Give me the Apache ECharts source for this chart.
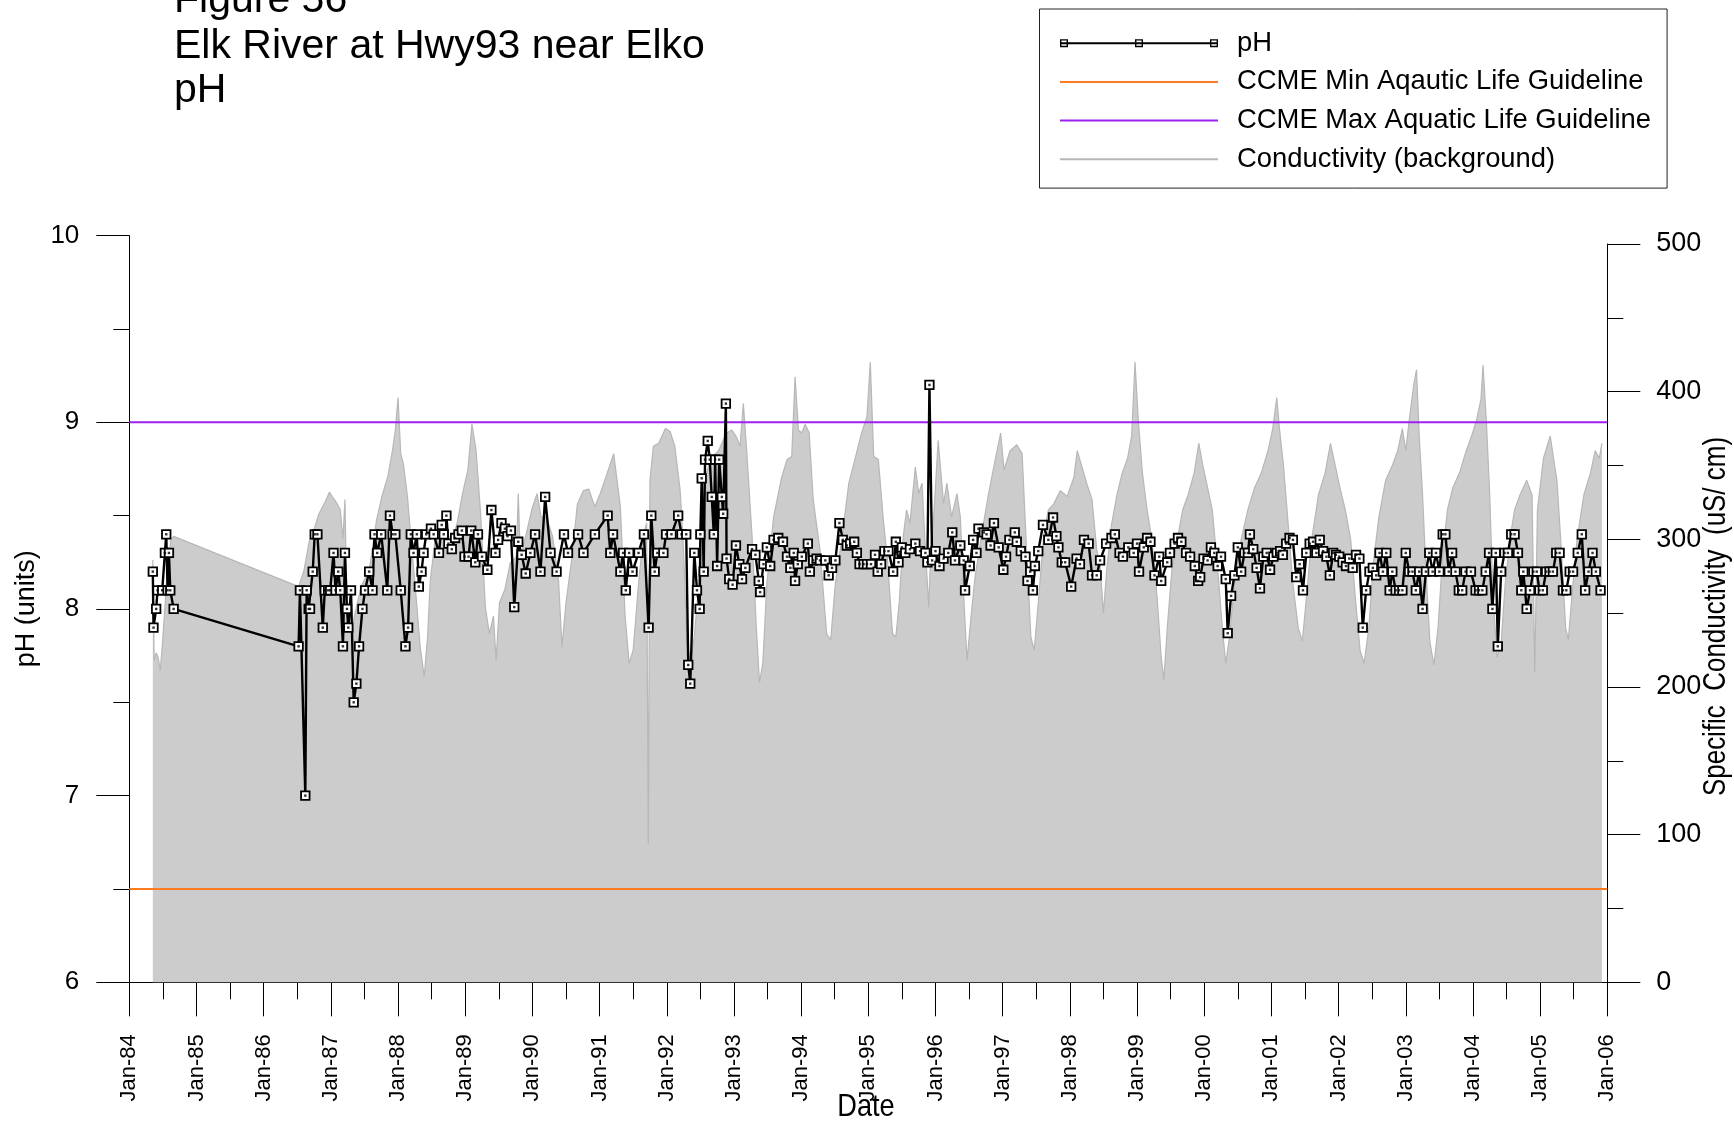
<!DOCTYPE html>
<html>
<head>
<meta charset="utf-8">
<title>Elk River at Hwy93 near Elko - pH</title>
<script src="https://cdn.jsdelivr.net/npm/echarts@6/dist/echarts.min.js"></script>
<style>
  html, body { margin: 0; padding: 0; background: #fff; }
  #chart { width: 1734px; height: 1123px; }
</style>
</head>
<body>
<div id="chart"></div>
<script>
// Sample dates are decimal years; pH in units, conductivity in uS/cm.
const phYears = [
  1984.35,1984.36,1984.40,1984.42,1984.49,1984.53,1984.55,1984.57,1984.59,1984.61,1984.66,
  1986.52,1986.54,1986.62,1986.64,1986.67,1986.69,1986.73,1986.76,1986.80,1986.88,1986.91,1986.96,1986.99,
  1987.04,1987.07,1987.11,1987.14,1987.18,1987.21,1987.24,1987.26,1987.30,1987.34,1987.38,1987.42,1987.47,
  1987.51,1987.57,1987.62,1987.65,1987.69,1987.75,1987.84,1987.88,1987.92,1987.96,
  1988.04,1988.11,1988.15,1988.19,1988.23,1988.28,1988.31,1988.35,1988.38,1988.42,1988.49,1988.53,1988.61,
  1988.65,1988.68,1988.72,1988.75,1988.80,1988.85,1988.90,1988.95,1988.99,
  1989.05,1989.09,1989.15,1989.19,1989.25,1989.33,1989.39,1989.45,1989.49,1989.54,1989.59,1989.63,1989.68,
  1989.73,1989.79,1989.84,1989.90,1989.97,
  1990.04,1990.12,1990.19,1990.27,1990.36,1990.47,1990.53,1990.68,1990.76,1990.93,
  1991.12,1991.16,1991.20,1991.31,1991.35,1991.39,1991.44,1991.49,1991.58,1991.66,1991.73,1991.77,1991.82,
  1991.86,1991.95,1991.99,1992.07,1992.17,1992.22,1992.29,1992.32,1992.35,1992.41,1992.45,1992.49,1992.50,
  1992.52,1992.55,1992.57,1992.61,1992.64,1992.67,1992.70,1992.72,1992.75,1992.78,1992.82,1992.84,1992.88,
  1992.89,1992.93,1992.98,1993.03,1993.08,1993.12,1993.17,1993.27,1993.32,1993.37,1993.39,1993.44,1993.49,
  1993.54,1993.59,1993.66,1993.73,1993.79,1993.84,1993.89,1993.91,1993.95,
  1994.01,1994.10,1994.13,1994.18,1994.23,1994.28,1994.36,1994.41,1994.46,1994.51,1994.57,1994.62,1994.68,
  1994.73,1994.79,1994.83,1994.87,1994.93,1994.98,
  1995.04,1995.10,1995.14,1995.19,1995.24,1995.30,1995.37,1995.41,1995.45,1995.50,1995.55,1995.62,1995.70,
  1995.77,1995.85,1995.88,1995.91,1995.95,
  1996.00,1996.06,1996.12,1996.19,1996.25,1996.29,1996.37,1996.42,1996.44,1996.51,1996.56,1996.61,1996.64,
  1996.72,1996.76,1996.82,1996.87,1996.94,
  1997.01,1997.05,1997.10,1997.18,1997.21,1997.27,1997.34,1997.37,1997.41,1997.45,1997.48,1997.53,1997.60,
  1997.68,1997.75,1997.80,1997.83,1997.88,1997.93,
  1998.02,1998.10,1998.15,1998.21,1998.28,1998.33,1998.40,1998.45,1998.54,1998.62,1998.67,1998.74,1998.79,
  1998.87,1998.95,
  1999.00,1999.03,1999.10,1999.15,1999.20,1999.26,1999.33,1999.36,1999.45,1999.49,1999.56,1999.61,1999.66,
  1999.73,1999.79,1999.86,1999.91,1999.94,1999.99,
  2000.05,2000.10,2000.15,2000.20,2000.25,2000.32,2000.35,2000.40,2000.45,2000.50,2000.55,2000.60,2000.65,
  2000.68,2000.73,2000.78,2000.83,2000.88,2000.93,2000.98,
  2001.03,2001.08,2001.13,2001.17,2001.22,2001.27,2001.32,2001.37,2001.42,2001.47,2001.52,2001.57,2001.62,
  2001.67,2001.72,2001.77,2001.82,2001.87,2001.92,2001.96,
  2002.01,2002.06,2002.11,2002.16,2002.21,2002.26,2002.31,2002.36,2002.41,2002.46,2002.51,2002.56,2002.61,
  2002.66,2002.71,2002.76,2002.80,2002.85,2002.90,2002.95,
  2003.00,2003.05,2003.10,2003.15,2003.20,2003.25,2003.30,2003.35,2003.40,2003.45,2003.50,2003.55,2003.59,
  2003.64,2003.69,2003.74,2003.79,2003.84,2003.89,2003.97,
  2004.04,2004.09,2004.14,2004.19,2004.24,2004.29,2004.34,2004.37,2004.42,2004.47,2004.52,2004.57,2004.62,
  2004.67,2004.72,2004.75,2004.80,2004.85,2004.90,2004.95,2004.99,
  2005.04,2005.09,2005.14,2005.19,2005.24,2005.29,2005.34,2005.39,2005.44,2005.49,2005.56,2005.62,2005.67,
  2005.72,2005.78,2005.83,2005.90
];
const phValues = [
  8.2,7.9,8.0,8.1,8.1,8.3,8.4,8.1,8.3,8.1,8.0,
  7.8,8.1,7.0,8.1,8.0,8.0,8.2,8.4,8.4,7.9,8.1,8.1,8.1,
  8.3,8.1,8.2,8.1,7.8,8.3,8.0,7.9,8.1,7.5,7.6,7.8,8.0,
  8.1,8.2,8.1,8.4,8.3,8.4,8.1,8.5,8.4,8.4,
  8.1,7.8,7.9,8.4,8.3,8.4,8.12,8.2,8.3,8.4,8.43,8.4,8.3,
  8.45,8.4,8.5,8.35,8.32,8.38,8.4,8.42,8.28,
  8.28,8.42,8.25,8.4,8.28,8.21,8.53,8.3,8.37,8.46,8.43,8.39,8.42,
  8.01,8.36,8.29,8.19,8.3,
  8.4,8.2,8.6,8.3,8.2,8.4,8.3,8.4,8.3,8.4,
  8.5,8.3,8.4,8.2,8.3,8.1,8.3,8.2,8.3,8.4,7.9,8.5,8.2,
  8.3,8.3,8.4,8.4,8.5,8.4,8.4,7.7,7.6,8.3,8.1,8.0,8.4,
  8.7,8.2,8.8,8.9,8.8,8.6,8.4,8.8,8.23,8.8,8.6,8.51,9.1,
  8.27,8.16,8.13,8.34,8.24,8.16,8.22,8.32,8.29,8.15,8.09,8.24,8.33,
  8.23,8.37,8.38,8.36,8.28,8.22,8.3,8.15,8.24,
  8.28,8.35,8.2,8.26,8.27,8.26,8.26,8.18,8.22,8.26,8.46,8.37,8.34,
  8.35,8.36,8.3,8.24,8.24,8.24,
  8.24,8.29,8.2,8.24,8.31,8.31,8.2,8.36,8.25,8.33,8.3,8.32,8.35,
  8.31,8.3,8.25,9.2,8.26,
  8.31,8.23,8.27,8.3,8.41,8.26,8.34,8.26,8.1,8.23,8.37,8.3,8.43,
  8.41,8.4,8.34,8.46,8.33,
  8.21,8.28,8.37,8.41,8.36,8.31,8.28,8.15,8.2,8.1,8.23,8.31,8.45,
  8.37,8.49,8.39,8.33,8.25,8.25,
  8.12,8.27,8.24,8.37,8.35,8.18,8.18,8.26,8.35,8.38,8.4,8.3,8.28,
  8.33,8.3,
  8.35,8.2,8.33,8.38,8.36,8.18,8.28,8.15,8.25,8.3,8.35,8.38,8.36,
  8.3,8.28,8.23,8.15,8.17,8.27,
  8.26,8.33,8.3,8.23,8.28,8.16,7.87,8.07,8.18,8.33,8.2,8.3,8.3,
  8.4,8.32,8.22,8.11,8.28,8.3,8.21,
  8.28,8.3,8.31,8.29,8.35,8.38,8.37,8.17,8.24,8.1,8.3,8.35,8.36,
  8.3,8.37,8.31,8.28,8.18,8.3,8.29,
  8.28,8.25,8.23,8.27,8.22,8.29,8.27,7.9,8.1,8.2,8.22,8.18,8.3,
  8.2,8.3,8.1,8.2,8.1,8.1,8.1,
  8.3,8.2,8.2,8.1,8.2,8.0,8.2,8.3,8.2,8.3,8.2,8.4,8.4,
  8.2,8.3,8.2,8.1,8.1,8.2,8.2,
  8.1,8.1,8.1,8.2,8.3,8.0,8.3,7.8,8.2,8.3,8.3,8.4,8.4,
  8.3,8.1,8.2,8.0,8.1,8.2,8.2,8.1,
  8.1,8.2,8.2,8.2,8.3,8.3,8.1,8.1,8.2,8.2,8.3,8.4,8.1,
  8.2,8.3,8.2,8.1
];

const condYears = [
  1984.35,1984.37,1984.40,1984.43,1984.46,1984.49,1984.52,1984.56,1984.62,1984.66,
  1986.52,1986.60,1986.68,1986.74,1986.82,1986.91,1986.98,1987.02,1987.08,1987.14,1987.18,1987.21,1987.24,
  1987.31,1987.37,1987.45,1987.57,1987.68,1987.76,1987.85,1987.92,1987.96,1988.00,1988.04,1988.08,1988.14,
  1988.19,1988.26,1988.33,1988.39,1988.44,1988.48,1988.55,1988.62,1988.70,1988.79,1988.88,1988.96,
  1989.04,1989.10,1989.16,1989.23,1989.30,1989.36,1989.42,1989.46,1989.51,1989.59,1989.67,1989.76,1989.79,
  1989.82,1989.90,1989.99,1990.07,1990.13,1990.21,1990.30,1990.39,1990.44,1990.50,1990.59,1990.67,1990.76,
  1990.84,1990.93,1991.01,1991.10,1991.21,1991.31,1991.38,1991.44,1991.50,1991.58,1991.65,1991.70,1991.725,
  1991.75,1991.80,1991.88,1991.98,1992.05,1992.12,1992.20,1992.25,1992.30,1992.35,1992.41,1992.47,1992.55,
  1992.65,1992.77,1992.89,1992.97,1993.04,1993.09,1993.14,1993.19,1993.27,1993.33,1993.38,1993.43,1993.49,
  1993.59,1993.71,1993.79,1993.86,1993.91,1993.96,1994.01,1994.06,1994.12,1994.18,1994.28,1994.38,1994.44,
  1994.51,1994.61,1994.71,1994.80,1994.90,1994.98,1995.03,1995.08,1995.15,1995.22,1995.29,1995.36,1995.41,
  1995.46,1995.52,1995.57,1995.62,1995.70,1995.75,1995.80,1995.85,1995.90,1995.93,1995.98,1996.04,1996.12,
  1996.17,1996.24,1996.32,1996.37,1996.43,1996.47,1996.53,1996.59,1996.69,1996.79,1996.89,1996.97,1997.02,
  1997.11,1997.21,1997.29,1997.36,1997.42,1997.47,1997.53,1997.61,1997.68,1997.76,1997.86,1997.96,1998.06,
  1998.11,1998.18,1998.25,1998.33,1998.40,1998.45,1998.50,1998.55,1998.62,1998.70,1998.78,1998.86,1998.92,
  1998.97,1999.02,1999.08,1999.15,1999.22,1999.30,1999.36,1999.40,1999.45,1999.52,1999.60,1999.68,1999.76,
  1999.85,1999.92,1999.98,2000.05,2000.12,2000.20,2000.27,2000.32,2000.38,2000.45,2000.55,2000.65,2000.75,
  2000.85,2000.95,2001.02,2001.08,2001.12,2001.18,2001.25,2001.32,2001.40,2001.46,2001.52,2001.60,2001.70,
  2001.80,2001.88,2001.95,2002.02,2002.10,2002.18,2002.25,2002.32,2002.38,2002.45,2002.52,2002.60,2002.70,
  2002.80,2002.88,2002.95,2003.00,2003.05,2003.12,2003.16,2003.20,2003.25,2003.30,2003.36,2003.42,2003.48,
  2003.55,2003.62,2003.70,2003.80,2003.90,2003.98,2004.05,2004.12,2004.15,2004.20,2004.25,2004.30,2004.36,
  2004.42,2004.48,2004.55,2004.62,2004.70,2004.80,2004.88,2004.92,2004.96,2005.05,2005.15,2005.25,2005.32,
  2005.38,2005.42,2005.47,2005.55,2005.65,2005.75,2005.82,2005.88,2005.92
];
const condValues = [
  286,218,223,220,211,227,247,275,300,302,
  268,279,299,305,317,325,332,329,325,320,300,327,250,
  238,252,268,279,313,329,343,361,374,396,358,351,329,
  302,266,227,207,234,272,299,311,306,297,311,331,
  347,378,361,317,254,236,248,218,257,266,284,288,331,
  288,302,320,331,315,315,302,272,227,257,288,324,333,
  334,322,331,343,358,322,248,216,225,270,302,311,94,
  340,363,365,375,373,363,333,293,230,218,234,266,338,
  354,360,372,374,369,363,392,360,302,243,203,216,270,
  315,342,354,356,410,374,372,378,372,327,293,236,232,
  270,302,338,354,372,383,420,356,354,315,284,236,234,
  257,302,320,311,349,331,338,293,254,293,320,367,324,
  338,315,331,315,252,218,248,275,304,331,354,372,347,
  360,364,358,288,234,225,257,302,320,324,333,329,342,
  360,349,338,327,293,282,250,280,310,330,345,355,370,
  420,380,345,320,300,260,220,205,240,280,300,320,330,
  345,365,350,335,320,280,240,216,235,270,300,320,335,
  345,360,375,396,375,350,310,270,240,231,260,300,330,
  345,365,350,335,320,300,260,225,216,240,285,315,340,
  350,360,375,360,380,405,415,370,330,280,230,215,240,
  290,320,335,345,360,370,380,395,418,380,330,260,220,
  230,270,300,320,330,340,330,210,320,355,370,340,290,
  240,232,260,300,330,345,360,355,365
];

const phGuidelineMin = 6.5;
const phGuidelineMax = 9.0;
const xRange = [1984, 2006];

const FONT = '"Liberation Sans", Arial, Helvetica, sans-serif';

const phData = phYears.map((y, i) => [y, phValues[i]]);
const condData = condYears.map((y, i) => [y, condValues[i]]);

// pH legend sample: a line with three hollow square markers
const phLegendIcon = 'path://M0,3H158V5H0Z' +
  'M0,0H8V8H0Z M1.4,1.4V6.6H6.6V1.4Z' +
  'M75,0H83V8H75Z M76.4,1.4V6.6H81.6V1.4Z' +
  'M150,0H158V8H150Z M151.4,1.4V6.6H156.6V1.4Z';

// plain line samples: hide the marker ECharts adds in the middle
const noMarker = { opacity: 0, borderWidth: 0 };

const chart = echarts.init(document.getElementById('chart'), null, { renderer: 'canvas' });

const tickStyle = { color: '#000', width: 1 };

const option = {
  animation: false,
  backgroundColor: '#fff',
  textStyle: { fontFamily: FONT, color: '#000' },
  grid: [
    { left: 129.3, right: 126.7, top: 235.6, bottom: 140.7, outerBoundsMode: 'none' },
    { left: 129.3, right: 126.7, top: 244, bottom: 140.7, outerBoundsMode: 'none' }
  ],
  xAxis: [
    {
      type: 'value', gridIndex: 0, min: xRange[0], max: xRange[1], interval: 1,
      position: 'bottom',
      axisLine: { show: true, onZero: false, lineStyle: tickStyle },
      axisTick: { show: true, inside: false, length: 34, lineStyle: tickStyle },
      minorTick: { show: true, splitNumber: 2, length: 17, lineStyle: tickStyle },
      splitLine: { show: false },
      minorSplitLine: { show: false },
      axisLabel: {
        rotate: 90, margin: 52, fontSize: 22, fontFamily: FONT, color: '#000',
        showMinLabel: true, showMaxLabel: true,
        formatter: v => 'Jan-' + String(Math.round(v) % 100).padStart(2, '0')
      }
    },
    {
      type: 'value', gridIndex: 1, min: xRange[0], max: xRange[1], interval: 1, show: false
    }
  ],
  yAxis: [
    {
      type: 'value', gridIndex: 0, min: 6, max: 10, interval: 1, position: 'left',
      axisLine: { show: true, onZero: false, lineStyle: tickStyle },
      axisTick: { show: true, inside: false, length: 33, lineStyle: tickStyle },
      minorTick: { show: true, splitNumber: 2, length: 16, lineStyle: tickStyle },
      splitLine: { show: false },
      minorSplitLine: { show: false },
      axisLabel: { margin: 50, fontSize: 26, fontFamily: FONT, color: '#000' }
    },
    {
      type: 'value', gridIndex: 1, min: 0, max: 500, interval: 100, position: 'right',
      axisLine: { show: true, onZero: false, lineStyle: tickStyle },
      axisTick: { show: true, inside: false, length: 33, lineStyle: tickStyle },
      minorTick: { show: true, splitNumber: 2, length: 16, lineStyle: tickStyle },
      splitLine: { show: false },
      minorSplitLine: { show: false },
      axisLabel: { margin: 49, fontSize: 27, fontFamily: FONT, color: '#000' }
    }
  ],
  legend: {
    orient: 'vertical',
    left: 1039.5,
    top: 9,
    padding: [19.2, 16, 13.8, 19.5],
    itemWidth: 158,
    itemHeight: 8,
    itemGap: 8.7,
    borderColor: '#222',
    borderWidth: 1,
    borderRadius: 0,
    selectedMode: false,
    textStyle: { fontSize: 27.4, fontFamily: FONT, color: '#000', lineHeight: 30, padding: [0, 0, 0, 14] },
    data: [
      { name: 'pH', icon: phLegendIcon, itemStyle: { color: '#000', borderWidth: 0 } },
      { name: 'CCME Min Aqautic Life Guideline', itemStyle: noMarker },
      { name: 'CCME Max Aquatic Life Guideline', itemStyle: noMarker },
      { name: 'Conductivity (background)', itemStyle: noMarker }
    ]
  },
  graphic: [
    { type: 'text', x: 174, y: 1.1, style: { text: 'Figure 56', fontSize: 41, fontFamily: FONT, fill: '#000', align: 'left', verticalAlign: 'middle', textAlign: 'left', textVerticalAlign: 'middle' } },
    { type: 'text', x: 174, y: 46.4, style: { text: 'Elk River at Hwy93 near Elko', fontSize: 41, fontFamily: FONT, fill: '#000', align: 'left', verticalAlign: 'middle', textAlign: 'left', textVerticalAlign: 'middle' } },
    { type: 'text', x: 174, y: 90.6, style: { text: 'pH', fontSize: 41, fontFamily: FONT, fill: '#000', align: 'left', verticalAlign: 'middle', textAlign: 'left', textVerticalAlign: 'middle' } },
    { type: 'text', x: 26.5, y: 608.8, rotation: Math.PI / 2, style: { text: 'pH (units)', fontSize: 27, fontFamily: FONT, fill: '#000', align: 'center', verticalAlign: 'middle', textAlign: 'center', textVerticalAlign: 'middle' } },
    { type: 'text', x: 1716, y: 616.5, rotation: Math.PI / 2, scaleX: 0.837, style: { text: 'Specific  Conductivity  (uS/ cm)', fontSize: 31, fontFamily: FONT, fill: '#000', align: 'center', verticalAlign: 'middle', textAlign: 'center', textVerticalAlign: 'middle' } },
    { type: 'text', x: 866, y: 1107.5, scaleX: 0.85, style: { text: 'Date', fontSize: 32, fontFamily: FONT, fill: '#000', align: 'center', verticalAlign: 'middle', textAlign: 'center', textVerticalAlign: 'middle' } }
  ],
  series: [
    {
      name: 'Conductivity (background)',
      type: 'line', xAxisIndex: 1, yAxisIndex: 1,
      data: condData,
      symbol: 'none',
      lineStyle: { color: '#b7b7b7', width: 1.2 },
      itemStyle: { color: '#bdbdbd' },
      areaStyle: { color: '#cccccc', opacity: 1 },
      z: 1,
      silent: true
    },
    {
      name: 'CCME Min Aqautic Life Guideline',
      type: 'line', xAxisIndex: 0, yAxisIndex: 0,
      data: [[xRange[0], phGuidelineMin], [xRange[1], phGuidelineMin]],
      symbol: 'none',
      lineStyle: { color: '#ff7b22', width: 2 },
      itemStyle: { color: '#ff7b22' },
      z: 2,
      silent: true
    },
    {
      name: 'CCME Max Aquatic Life Guideline',
      type: 'line', xAxisIndex: 0, yAxisIndex: 0,
      data: [[xRange[0], phGuidelineMax], [xRange[1], phGuidelineMax]],
      symbol: 'none',
      lineStyle: { color: '#a020f0', width: 2 },
      itemStyle: { color: '#a020f0' },
      z: 2,
      silent: true
    },
    {
      name: 'pH',
      type: 'line', xAxisIndex: 0, yAxisIndex: 0,
      data: phData,
      symbol: 'rect',
      symbolSize: 8.5,
      showAllSymbol: true,
      lineStyle: { color: '#000', width: 2.4 },
      itemStyle: { color: '#fff', borderColor: '#000', borderWidth: 1.8 },
      z: 3,
      silent: true
    },
    {
      // the trace seen through each open marker
      type: 'scatter', xAxisIndex: 0, yAxisIndex: 0,
      data: phData,
      symbol: 'rect',
      symbolSize: 2.4,
      itemStyle: { color: '#000' },
      z: 4,
      silent: true
    }
  ]
};

chart.setOption(option);
</script>
</body>
</html>
